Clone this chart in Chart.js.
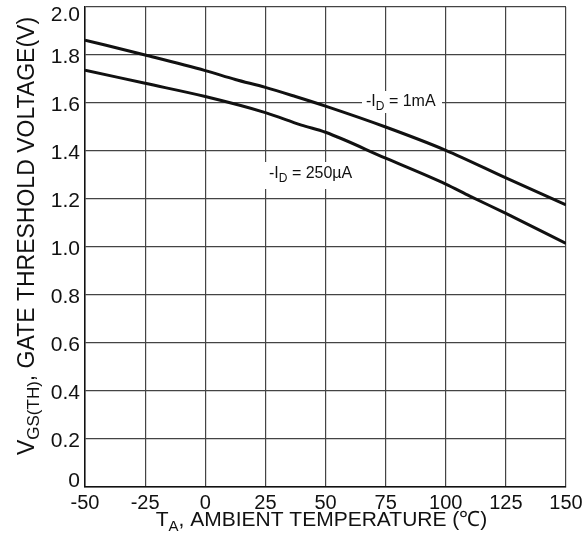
<!DOCTYPE html>
<html>
<head>
<meta charset="utf-8">
<script src="https://cdn.jsdelivr.net/npm/chart.js@4.4.0/dist/chart.umd.min.js"></script>
<style>
  body { margin: 0; background: #fff; }
  canvas { display: block; }
</style>
</head>
<body>
<canvas id="chart" width="582" height="537"></canvas>
<script>
// temperatures (°C) and threshold voltages (V)
const temps1mA = [-50, -25, 0, 12.5, 25, 37.5, 50, 75, 100, 125, 150];
const vgs1mA = [1.862, 1.80, 1.735, 1.698, 1.665, 1.627, 1.587, 1.50, 1.403, 1.288, 1.175];

const temps250uA = [-50, -25, 0, 25, 40, 50, 75, 100, 110, 125, 150];
const vgs250uA = [1.737, 1.682, 1.627, 1.56, 1.508, 1.478, 1.37, 1.262, 1.212, 1.14, 1.015];

const xTicks = [-50, -25, 0, 25, 50, 75, 100, 125, 150];
const yTicks = [0, 0.2, 0.4, 0.6, 0.8, 1.0, 1.2, 1.4, 1.6, 1.8, 2.0];

const FONT = '"Liberation Sans", Arial, sans-serif';

function toPoints(xs, ys) {
  return xs.map((x, i) => ({ x: x, y: ys[i] }));
}

// draws text with a subscript part: parts = [[text, size, dy], ...]
function drawParts(ctx, parts, x, y, align) {
  let total = 0;
  parts.forEach(p => {
    ctx.font = p[1] + 'px ' + FONT;
    total += ctx.measureText(p[0]).width;
  });
  let cx = align === 'center' ? x - total / 2 : x;
  ctx.textAlign = 'left';
  ctx.textBaseline = 'alphabetic';
  parts.forEach(p => {
    ctx.font = p[1] + 'px ' + FONT;
    ctx.fillText(p[0], cx, y + p[2]);
    cx += ctx.measureText(p[0]).width;
  });
  return total;
}

const labelsPlugin = {
  id: 'labels',
  afterDatasetsDraw(chart) {
    const ctx = chart.ctx;
    const area = chart.chartArea;
    const ys = chart.scales.y;
    ctx.save();

    // y tick labels, end ones kept inside the plot height
    ctx.fillStyle = '#111';
    ctx.font = '21px ' + FONT;
    ctx.textAlign = 'right';
    ctx.textBaseline = 'middle';
    yTicks.forEach(v => {
      let y = ys.getPixelForValue(v) + 2;
      y = Math.max(y, area.top + 8);
      y = Math.min(y, area.bottom - 6);
      ctx.fillText(v === 0 ? '0' : v.toFixed(1), area.left - 5, y);
    });

    // -ID = 1mA
    let px = 366, py = 106;
    ctx.fillStyle = '#fff';
    ctx.fillRect(px - 4, py - 15, 80, 22);
    ctx.fillStyle = '#111';
    drawParts(ctx, [['-I', 16, 0], ['D', 12, 4], [' = 1mA', 16, 0]], px, py, 'left');

    // -ID = 250µA
    px = 269; py = 178;
    ctx.fillStyle = '#fff';
    ctx.fillRect(px - 4, py - 16, 94, 27);
    ctx.fillStyle = '#111';
    drawParts(ctx, [['-I', 16, 0], ['D', 12, 4], [' = 250µA', 16, 0]], px, py, 'left');

    // x axis title
    const midX = (area.left + area.right) / 2;
    drawParts(ctx, [['T', 21, 0], ['A', 15, 5], [', AMBIENT TEMPERATURE (\u2103)', 21, 0]], midX - 4, 526, 'center');

    // y axis title, rotated
    ctx.translate(34, 236);
    ctx.rotate(-Math.PI / 2);
    drawParts(ctx, [['V', 23, 0], ['GS(TH)', 17, 5], [', GATE THRESHOLD VOLTAGE(V)', 23, 0]], 0, 0, 'center');
    ctx.restore();
  }
};

new Chart(document.getElementById('chart'), {
  type: 'line',
  data: {
    datasets: [
      {
        label: '-ID = 1mA',
        data: toPoints(temps1mA, vgs1mA),
        borderColor: '#111',
        borderWidth: 3,
        pointRadius: 0,
        cubicInterpolationMode: 'monotone'
      },
      {
        label: '-ID = 250uA',
        data: toPoints(temps250uA, vgs250uA),
        borderColor: '#111',
        borderWidth: 3,
        pointRadius: 0,
        cubicInterpolationMode: 'monotone'
      }
    ]
  },
  options: {
    responsive: false,
    animation: false,
    layout: { padding: { top: 7, right: 16, left: 0, bottom: 0 } },
    plugins: {
      legend: { display: false },
      tooltip: { enabled: false }
    },
    scales: {
      x: {
        type: 'linear',
        min: -50,
        max: 150,
        afterBuildTicks: s => { s.ticks = xTicks.map(v => ({ value: v })); },
        afterFit: s => { s.height = 50; s.paddingLeft = 0; s.paddingRight = 0; },
        grid: { color: '#444', lineWidth: 1.2, drawTicks: false },
        border: { color: '#111', width: 1.5 },
        ticks: {
          autoSkip: false,
          maxRotation: 0,
          padding: 4,
          color: '#111',
          font: { family: FONT, size: 20 }
        }
      },
      y: {
        min: 0,
        max: 2,
        afterBuildTicks: s => { s.ticks = yTicks.map(v => ({ value: v })); },
        afterFit: s => { s.width = 85; s.paddingTop = 0; s.paddingBottom = 0; },
        grid: { color: '#444', lineWidth: 1.2, drawTicks: false },
        border: { color: '#111', width: 1.5 },
        ticks: { display: false }
      }
    }
  },
  plugins: [labelsPlugin]
});
</script>
</body>
</html>
